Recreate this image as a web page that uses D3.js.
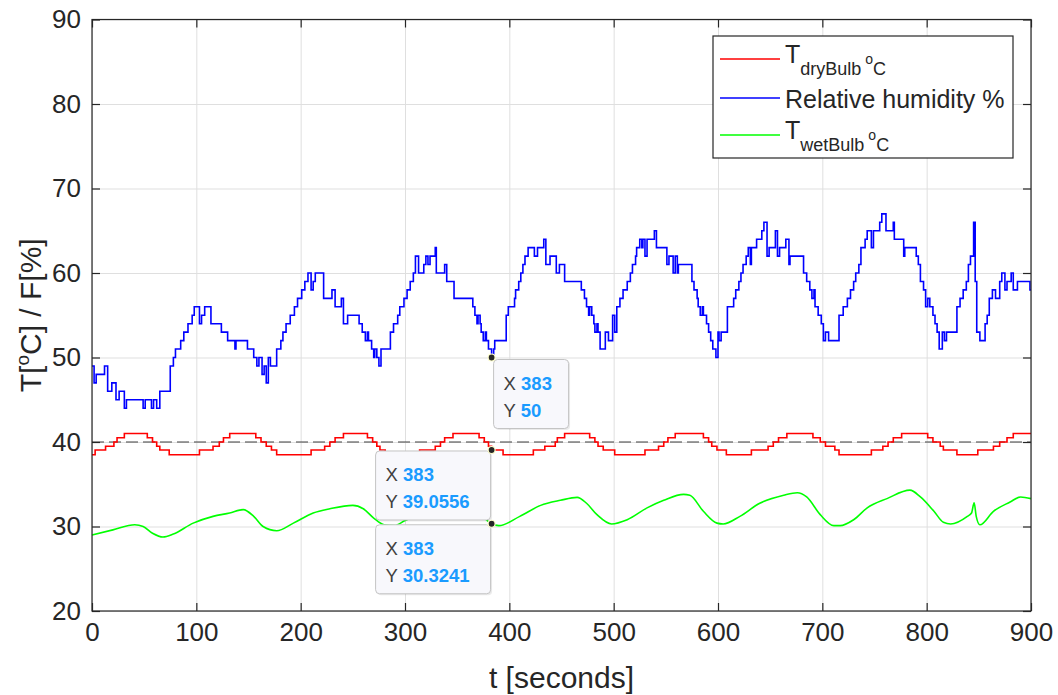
<!DOCTYPE html>
<html>
<head>
<meta charset="utf-8">
<script src="https://cdn.jsdelivr.net/npm/d3@7"></script>
<style>
  body { margin: 0; background: #fff; }
  text { font-family: "Liberation Sans", Arial, Helvetica, sans-serif; fill: #262626; }
</style>
</head>
<body>
<div id="board"></div>
<script>
// data: [t seconds, value]
// relative humidity % (step changes, value holds until next t)
const humidity = [
  [0,49],[2,47],[4,48],[12,49],[15,46],[19,47],[23,45],[26,46],[31,44],[33,45],[49,44],[51,45],
  [57,44],[59,45],[62,44],[65,46],[75,49],[78,50],[80,51],[85,52],[88,53],[92,54],[96,55],[98,56],
  [103,54],[105,55],[108,56],[114,54],[124,53],[130,52],[137,51],[138,52],[149,51],[155,50],[158,49],
  [160,50],[163,48],[165,49],[167,47],[169,50],[171,49],[177,51],[181,52],[183,53],[186,54],[190,55],
  [194,56],[197,57],[201,58],[204,59],[207,60],[210,58],[212,59],[214,60],[222,57],[230,58],[233,56],
  [239,57],[241,54],[245,55],[256,54],[259,53],[262,52],[264,53],[265,52],[268,51],[270,50],[271,51],
  [273,50],[275,49],[277,51],[286,53],[289,54],[293,55],[295,56],[299,57],[302,58],[305,59],[308,60],
  [310,62],[313,60],[318,61],[320,62],[322,61],[324,62],[329,63],[330,60],[338,61],[340,59],[347,57],
  [365,56],[367,55],[369,54],[370,55],[372,54],[373,53],[375,52],[377,53],[378,52],[380,51],[383,50],
  [385,51],[386,52],[397,55],[399,56],[405,57],[406,58],[409,59],[411,60],[413,61],[415,62],[418,63],
  [424,62],[427,63],[433,64],[435,61],[439,62],[445,60],[448,61],[453,59],[469,58],[472,57],[474,56],
  [476,55],[477,56],[479,55],[481,54],[482,53],[484,54],[485,53],[487,51],[492,53],[495,52],[499,55],
  [501,53],[503,56],[506,57],[509,58],[513,59],[516,60],[518,61],[521,62],[522,63],[525,64],[527,63],
  [528,64],[530,62],[532,64],[539,65],[541,63],[551,61],[553,62],[557,60],[559,62],[561,60],[562,61],
  [575,59],[577,58],[580,57],[581,56],[583,55],[585,56],[586,55],[589,54],[591,53],[593,52],[595,51],
  [598,50],[600,53],[601,52],[603,53],[609,56],[615,57],[617,58],[620,59],[622,60],[624,61],[627,62],
  [629,63],[631,61],[632,63],[637,64],[642,65],[644,66],[647,62],[649,63],[655,65],[657,62],[659,63],
  [665,64],[668,61],[669,62],[682,60],[685,59],[688,58],[690,57],[692,58],[693,56],[696,55],[699,54],
  [701,52],[703,53],[706,52],[716,55],[720,56],[724,57],[727,58],[730,59],[732,60],[735,61],[737,63],
  [741,64],[743,65],[747,63],[749,65],[755,66],[757,67],[761,65],[768,66],[769,64],[778,62],[779,63],
  [790,62],[792,61],[794,59],[797,58],[799,56],[801,57],[803,56],[806,55],[808,54],[810,53],[812,51],
  [815,53],[817,52],[819,53],[829,56],[832,57],[835,58],[838,59],[840,61],[842,62],[845,66],[846.5,59],
  [848,53],[851,52],[856,54],[858,55],[860,57],[863,58],[866,57],[870,59],[872,60],[875,58],[877,59],
  [881,60],[883,58],[887,59],[899,58],[900,58]
];

// dry bulb temperature oC (step changes)
const dryBulb = [
  [0,38.5],[3,39.06],[13,39.5],[21,40],[24,40.5],[31,41],[53,40.5],[58,40],[62,39.5],[65,39.06],[74,38.5],
  [103,39.06],[116,39.5],[122,40],[126,40.5],[132,41],[157,40.5],[162,40],[167,39.5],[172,39.06],[177,38.5],
  [210,39.06],[223,39.5],[228,40],[233,40.5],[241,41],[264,40.5],[269,40],[273,39.5],[276,39.06],[281,38.5],
  [314,39.06],[329,39.5],[334,40],[338,40.5],[346,41],[371,40.5],[376,40],[380,39.5],[383,39.06],[394,38.5],
  [423,39.06],[434,39.5],[444,40],[446,40.5],[453,41],[477,40.5],[482,40],[485,39.5],[490,39.06],[501,38.5],
  [530,39.06],[543,39.5],[548,40],[552,40.5],[559,41],[586,40.5],[591,40],[594,39.5],[599,39.06],[608,38.5],
  [632,39.06],[648,39.5],[653,40],[658,40.5],[666,41],[691,40.5],[698,40],[703,39.5],[712,39.06],[716,38.5],
  [747,39.06],[758,39.5],[763,40],[768,40.5],[776,41],[801,40.5],[806,40],[813,39.5],[816,39.06],[829,38.5],
  [849,39.06],[864,39.5],[870,40],[877,40.5],[883,41],[900,41]
];

// wet bulb temperature oC (smooth)
const wetBulb = [
  [0,29.0],[20,29.6],[41,30.2],[49,30.0],[58,29.2],[68,28.75],[78,29.1],[97,30.4],[116,31.2],[132,31.6],
  [145,32.0],[155,31.2],[164,30.0],[177,29.5],[193,30.4],[212,31.6],[228,32.1],[250,32.5],[260,32.1],
  [270,31.0],[280,30.2],[290,30.1],[300,30.7],[320,31.8],[340,32.5],[355,32.9],[365,32.3],[375,31.1],
  [383,30.3241],[390,30.1],[410,31.2],[430,32.5],[449,33.1],[465,33.45],[474,32.75],[484,31.4],[498,30.3],
  [513,30.8],[532,32.2],[548,33.1],[567,33.8],[573,33.7],[586,31.8],[599,30.4],[605,30.3],[621,31.2],
  [640,32.75],[663,33.7],[676,34.0],[685,33.5],[698,31.4],[711,30.1],[717,30.1],[730,30.8],[743,32.2],
  [762,33.3],[784,34.3],[794,33.5],[807,31.8],[816,30.5],[823,30.3],[839,31.2],[843,31.6],[845.5,32.8],
  [847.5,31.2],[851,30.2],[864,31.8],[880,32.9],[890,33.5],[900,33.3]
];

const refLevel = 40;
const xTicks = [0, 100, 200, 300, 400, 500, 600, 700, 800, 900];
const yTicks = [20, 30, 40, 50, 60, 70, 80, 90];
const tips = [[383, 50], [383, 39.0556], [383, 30.3241]];

// chart dimensions
const width = 1058;
const height = 695;
const marginTop = 19.5;
const marginRight = 27;
const marginBottom = 84;
const marginLeft = 92;

const x = d3.scaleLinear().domain([0, 900]).range([marginLeft, width - marginRight]);
const y = d3.scaleLinear().domain([20, 90]).range([height - marginBottom, marginTop]);

const svg = d3.create("svg").attr("width", width).attr("height", height);

// grid
svg.append("g")
    .attr("transform", `translate(0,${height - marginBottom})`)
    .call(d3.axisBottom(x).tickValues(xTicks).tickSize(-(height - marginBottom - marginTop)).tickFormat(""))
    .call(g => g.select(".domain").remove())
    .call(g => g.selectAll("line").attr("stroke", "#dfdfdf"));
svg.append("g")
    .attr("transform", `translate(${marginLeft},0)`)
    .call(d3.axisLeft(y).tickValues(yTicks).tickSize(-(width - marginLeft - marginRight)).tickFormat(""))
    .call(g => g.select(".domain").remove())
    .call(g => g.selectAll("line").attr("stroke", "#dfdfdf"));

// reference dashed line
svg.append("line")
    .attr("x1", x(0)).attr("x2", x(900))
    .attr("y1", y(refLevel)).attr("y2", y(refLevel))
    .attr("stroke", "#404040").attr("stroke-width", 1.2)
    .attr("stroke-dasharray", "12,5");

// series
const lineStep = d3.line().x(d => x(d[0])).y(d => y(d[1])).curve(d3.curveStepAfter);
const lineSmooth = d3.line().x(d => x(d[0])).y(d => y(d[1])).curve(d3.curveMonotoneX);

svg.append("path").datum(dryBulb)
    .attr("fill", "none").attr("stroke", "#ff0000").attr("stroke-width", 1.6)
    .attr("d", lineStep);
svg.append("path").datum(humidity)
    .attr("fill", "none").attr("stroke", "#0000ff").attr("stroke-width", 1.6)
    .attr("d", lineStep);
svg.append("path").datum(wetBulb)
    .attr("fill", "none").attr("stroke", "#00ff00").attr("stroke-width", 1.6)
    .attr("d", lineSmooth);

// axes box
svg.append("rect")
    .attr("x", marginLeft).attr("y", marginTop)
    .attr("width", width - marginLeft - marginRight)
    .attr("height", height - marginBottom - marginTop)
    .attr("fill", "none").attr("stroke", "#262626").attr("stroke-width", 1.2);

const fmtAxis = g => {
  g.select(".domain").remove();
  g.selectAll("line").attr("stroke", "#262626").attr("stroke-width", 1.2);
  g.selectAll("text").attr("fill", "#262626").attr("font-size", 26)
    .attr("font-family", '"Liberation Sans", Arial, sans-serif');
};

svg.append("g")
    .attr("transform", `translate(0,${height - marginBottom})`)
    .call(d3.axisBottom(x).tickValues(xTicks).tickSize(-8).tickPadding(12))
    .call(fmtAxis);
svg.append("g")
    .attr("transform", `translate(${marginLeft},0)`)
    .call(d3.axisLeft(y).tickValues(yTicks).tickSize(-8).tickPadding(11))
    .call(fmtAxis);
svg.append("g")
    .attr("transform", `translate(0,${marginTop})`)
    .call(d3.axisTop(x).tickValues(xTicks).tickSize(-8).tickFormat(""))
    .call(fmtAxis);
svg.append("g")
    .attr("transform", `translate(${width - marginRight},0)`)
    .call(d3.axisRight(y).tickValues(yTicks).tickSize(-8).tickFormat(""))
    .call(fmtAxis);

// axis labels
svg.append("text")
    .attr("x", (marginLeft + width - marginRight) / 2).attr("y", 688)
    .attr("text-anchor", "middle").attr("font-size", 30)
    .text("t [seconds]");

const yl = svg.append("text")
    .attr("transform", `translate(41,${(marginTop + height - marginBottom) / 2}) rotate(-90)`)
    .attr("text-anchor", "middle").attr("font-size", 30);
yl.append("tspan").text("T[");
yl.append("tspan").attr("font-size", 19).attr("dy", -12).text("o");
yl.append("tspan").attr("dy", 12).text("C] / F[%]");

// legend
const legend = svg.append("g");
legend.append("rect")
    .attr("x", 713).attr("y", 36).attr("width", 300).attr("height", 122)
    .attr("fill", "#fff").attr("stroke", "#262626").attr("stroke-width", 1.2);

const legendItems = [
  {color: "#ff0000", y: 59, main: "T", sub: "dryBulb"},
  {color: "#0000ff", y: 98, main: "Relative humidity %"},
  {color: "#00ff00", y: 135, main: "T", sub: "wetBulb"}
];
legendItems.forEach(d => {
  legend.append("line")
      .attr("x1", 720).attr("x2", 780).attr("y1", d.y).attr("y2", d.y)
      .attr("stroke", d.color).attr("stroke-width", 1.5);
  const t = legend.append("text").attr("x", 785).attr("y", d.y + (d.sub ? 4 : 10)).attr("font-size", 25);
  t.append("tspan").text(d.main);
  if (d.sub) {
    t.append("tspan").attr("font-size", 18).attr("dy", 12).text(d.sub);
    t.append("tspan").attr("font-size", 14).attr("dx", 4).attr("dy", -11).text("o");
    t.append("tspan").attr("font-size", 18).attr("dy", 11).text("C");
  }
});

// data tips
const tipBoxes = [
  {dx: 2, dy: 2, w: 75},
  {dx: -116, dy: 1, w: 115},
  {dx: -116, dy: 1, w: 115}
];
tips.forEach((d, i) => {
  const mx = x(d[0]), my = y(d[1]);
  const b = tipBoxes[i];
  const g = svg.append("g").attr("transform", `translate(${mx + b.dx},${my + b.dy})`);
  g.append("rect")
      .attr("x", 1.5).attr("y", 1.5).attr("width", b.w).attr("height", 69).attr("rx", 4)
      .attr("fill", "#000").attr("opacity", 0.08);
  g.append("rect")
      .attr("width", b.w).attr("height", 69).attr("rx", 4)
      .attr("fill", "#f8f8fc").attr("stroke", "#c4c4c4").attr("stroke-width", 1);
  [["X", d[0]], ["Y", d[1]]].forEach((r, j) => {
    const t = g.append("text").attr("x", 10).attr("y", 30 + j * 27).attr("font-size", 18.5);
    t.append("tspan").attr("fill", "#404040").text(r[0] + " ");
    t.append("tspan").attr("fill", "#1a9bff").attr("font-weight", "bold").text(r[1]);
  });
  svg.append("circle")
      .attr("cx", mx).attr("cy", my).attr("r", 3.5)
      .attr("fill", "#262626").attr("stroke", "#ffffcc").attr("stroke-width", 1.2);
});

document.getElementById("board").append(svg.node());
</script>
</body>
</html>
